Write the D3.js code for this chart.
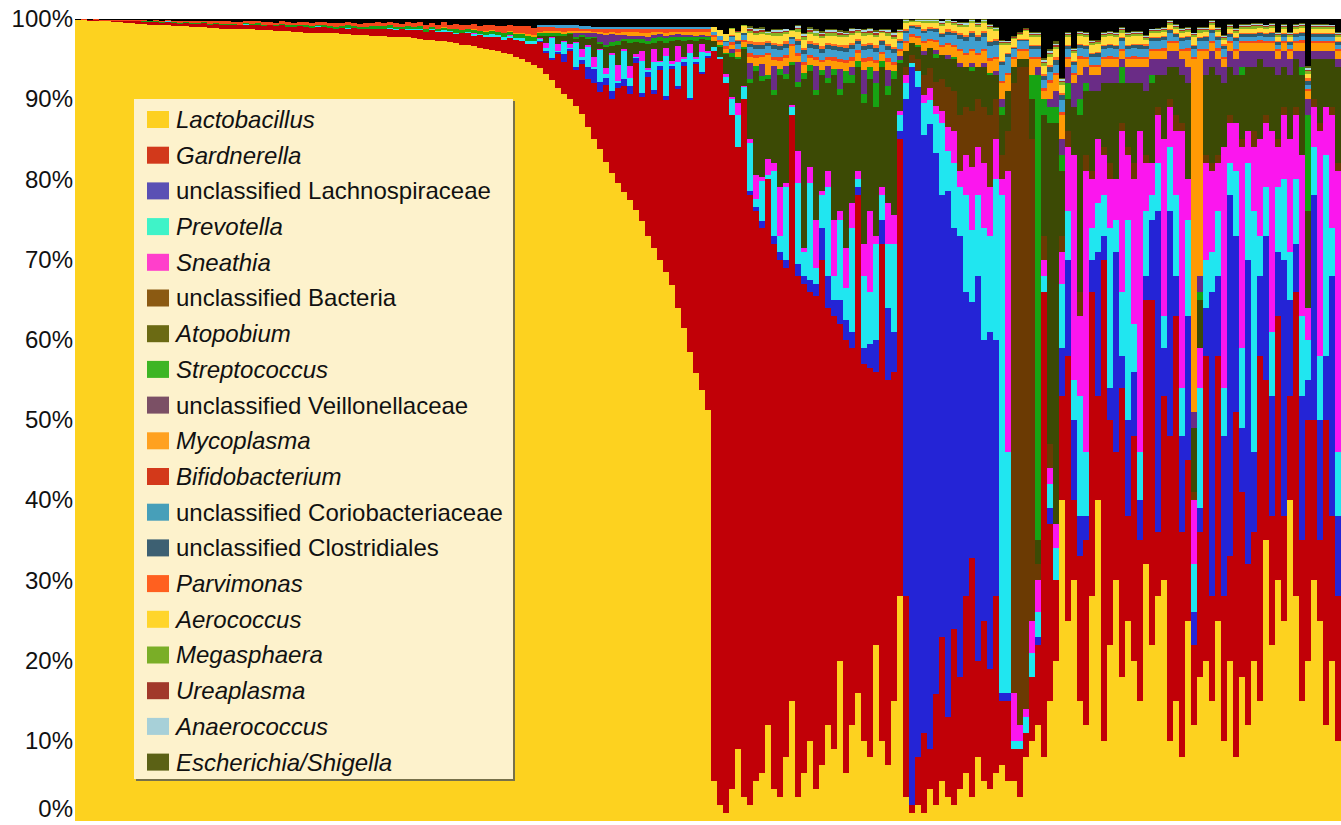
<!DOCTYPE html>
<meta charset="utf-8">
<style>
body { margin: 0; background: #fff; }
svg text { font-family: "Liberation Sans", Arial, sans-serif; fill: #111; }
</style>
<svg width="1341" height="825"></svg>
<script src="https://d3js.org/d3.v7.min.js"></script>
<script>

// taxa, bottom of the stack first (same order as the legend)
var taxa = ["Lactobacillus", "Gardnerella", "unclassified Lachnospiraceae", "Prevotella",
  "Sneathia", "unclassified Bacteria", "Atopobium", "Streptococcus",
  "unclassified Veillonellaceae", "Mycoplasma", "Bifidobacterium",
  "unclassified Coriobacteriaceae", "unclassified Clostridiales", "Parvimonas",
  "Aerococcus", "Megasphaera", "Ureaplasma", "Anaerococcus", "Escherichia/Shigella"];

var yTicks = [0, 0.1, 0.2, 0.3, 0.4, 0.5, 0.6, 0.7, 0.8, 0.9, 1];

// relative abundance (%) per sample, in plotted order:
// 106 Lactobacillus-dominated | 32 Gardnerella | 16 Lachnospiraceae | 57 mixed
var lactobacillus = [
  99.9,99.9,99.8,99.8,99.7,99.7,99.6,99.6,99.5,99.5,
  99.4,99.4,99.3,99.3,99.2,99.2,99.1,99.1,99.1,99.0,
  99.0,99.0,98.9,98.9,98.8,98.8,98.8,98.7,98.7,98.7,
  98.6,98.6,98.6,98.5,98.5,98.5,98.4,98.4,98.3,98.3,
  98.3,98.2,98.2,98.2,98.1,98.1,98.0,98.0,98.0,97.9,
  97.9,97.9,97.8,97.8,97.7,97.7,97.6,97.5,97.4,97.4,
  97.3,97.2,97.1,97.0,96.8,96.7,96.6,96.4,96.3,96.1,
  96.0,95.8,95.6,95.3,95.0,94.7,94.3,93.9,93.2,92.4,
  91.4,90.6,90.0,89.2,88.2,86.5,85.0,83.8,82.2,80.8,
  79.5,78.4,77.4,76.2,74.8,73.0,71.4,69.9,68.5,66.8,
  64.0,61.5,58.5,55.8,53.8,51.2,
  5,2,1,4,9,3,2,5,6,12,4,3,8,15,3,6,10,4,7,12,9,20,6,12,16,10,8,22,10,7,15,28,
  3,1,2,1,4,2,5,3,2,4,6,3,8,5,4,6,
  7,5,5,3,8,10,12,8,15,20, 40,25,30,15,12,28,40,10,22,30, 18,25,20,15,32,22,28,30,10,15,
  8,25,12,18,20,15,25,10,20,8, 18,12,20,15,35,22,30,25,40,28, 15,20,30,25,12,20,10
];
var gardnerella = [
  0,0,0.1,0.1,0.1,0.1,0.2,0.2,0.2,0.2,
  0.3,0.2,0.3,0.3,0.3,0.4,0.4,0.3,0.4,0.4,
  0.4,0.5,0.4,0.5,0.5,0.4,0.5,0.5,0.6,0.5,
  0.6,0.5,0.6,0.6,0.7,0.5,0.6,0.7,0.7,0.6,
  0.7,0.8,0.7,0.6,0.8,0.7,0.9,0.8,0.7,0.9,
  0.8,0.9,1.0,0.8,1.0,0.9,1.0,1.1,1.0,1.2,
  1.1,1.2,1.3,1.1,1.4,1.5,1.3,1.6,1.5,1.7,
  1.8,1.6,2.0,2.1,2.3,2.2,2.6,
  3.2,2.5,2.5,4.2,4.0,6.0,4.4,6.2,6.0,7.0, 7.1,9.6,9.2,11.9,13.3,13.3,18.3,15.5,19.8,19.3,
  23.7,21.4,27.0,27.3,32.7,31.4,38.6,39.3,43.9,
  91,93,91,84,75,87,76,71,68,68,68,67,61,73,65,61,56,61.5,63,52,54,42,54,47,62,47,48.5,34,62,48,41,57,
  25,1,6,10,5,14,18,10,22,14,22,30,12,20,15,22,
  8,10,4,6,3,8,10,58,22,10, 13,33,10,18,23,38,13,60,28,16, 36,13,28,20,33,43,8,23,38,48,
  28,20,10,18,38,13,33,18,13,43, 23,20,16,43,20,16,33,13,13,38, 20,30,20,10,38,18,18
];
var lachnospiraceae = [
  0,0,0,0,0,0,0,0,0,0, 0,0,0,0,0,0,0,0,0,0, 0,0,0,0,0,0,0,0,0,0, 0,0,0,0,0,0,0,0,0,0,
  0,0,0,0,0,0,0,0,0,0, 0,0,0,0,0,0,0,0,0,0, 0,0,0,0,0,0,0,0,0,0, 0,0,0,0,0,0,0,
  0.2,0.3,0.2,0.3,1.0,0.2,0.4,0.5,1.5,1.8,1.2,0.8,1.0,0.6,0.8,1.0,0.6,0.5,0.6,0.4,
  0.5,0.5,0.4,0.3,0.4,0.3,0.3,0.3,0.3,
  0,0,0,0,0,0,0.5,0.5,0.8,0,1,1,1,0,1.5,1,1.5,1.5,4,4,2,3,2.5,2,1,2,3,4,3,9,5,1,
  62,92,84,75,78,68,55,66,50,55,38,32,48,35,42,32,
  1,1,0,0,0,0,1,0,2,0, 6,12,10,5,3,4,18,3,4,25, 4,12,8,5,3,10,40,6,28,5,
  12,18,4,3,6,38,10,20,45,22, 8,38,10,10,18,15,8,32,12,6, 18,5,28,15,8,30,10
];
var prevotella = [
  0,0,0,0,0,0,0,0,0,0, 0,0,0,0,0,0.1,0,0,0,0, 0,0,0,0,0,0,0,0,0.1,0, 0,0,0,0,0,0,0,0,0,0,
  0.1,0,0,0,0,0.1,0,0,0,0,
  0.1,0,0.1,0.1,0,0.1,0.1,0.2,0,0.1,0.1,0.2,0.1,0.2,0.1,0.2,0.2,0.1,0.2,0.3,
  0.2,0.3,0.3,0.2,0.3,0.4,0.3,
  0.2,0.4,2.5,0.1,1.5,0.2,3.0,0.3,2.5,0.2, 4.0,0.5,4.5,0.3,3.5,1.0,0.2,4.0,0.3,3.5,
  0.5,5.0,0.2,3.0,0.4,5.5,0.3,2.5,0.4,
  0.5,0.3,0.8,2,4,1.5,6,1,5,0.5,8,2,9,1,10,3,12,2,4,11,3,10,4,13,1,9,6.5,12,3,8,11,2,
  2,0.5,2,4,3,5,9,5,8,6,12,9,10,14,12,20,
  62,30,1,1,2,3,3,2,3,4, 8,6,5,15,8,4,6,5,20,4, 8,25,6,6,8,3,6,4,8,10,
  6,12,6,15,6,5,8,6,4,8, 10,12,30,5,6,8,8,10,6,8, 10,5,6,8,25,6,8
];
var sneathia = [
  0,0,0,0,0,0,0,0,0,0, 0,0,0,0,0,0,0,0,0,0, 0,0,0,0,0,0,0,0,0,0, 0.1,0,0,0,0,0,0,0,0,0,
  0,0,0,0,0,0,0,0,0,0, 0,0,0,0,0,0.1,0,0,0,0, 0,0,0,0,0,0,0.1,0,0,0, 0,0,0.1,0,0,0,0,
  0.1,0.6,0.1,0.9,0.2,0.5,0.1,1.0,0.2,1.2, 0.2,0.8,0.3,2.0,0.2,1.5,0.3,1.2,0.2,1.6,
  0.2,1.0,0.4,2.0,0.2,1.2,0.3,1.0,0.2,
  0,0,0.3,0.3,1.5,0.2,0.5,3,0.5,2,1,6,0.5,0.3,4,0.5,2,6,0.5,2,7,1,5,3,1,4,10,1,1,5,3.5,0.5,
  1,0,0,1,1.5,1,1.5,3,4,2,5,8,6,8,6,5,
  2,35,6,2,1,4,4,2,2,3, 4,8,28,10,35,6,8,5,6,5, 20,8,18,40,6,4,6,22,5,8,
  32,5,8,5,12,10,6,30,5,6, 25,4,8,12,8,25,5,8,14,8, 20,4,5,28,6,14,35
];
var bacteria = [
  0,0,0,0,0,0,0,0,0,0, 0,0,0,0,0,0,0,0,0,0, 0,0,0,0,0,0,0,0,0,0, 0,0,0,0,0,0,0,0,0,0,
  0,0,0,0,0,0,0,0,0,0, 0,0,0,0,0,0,0,0,0,0, 0,0,0,0,0,0,0,0,0,0, 0,0,0,0,0,0,0,0,0,0,
  0,0,0,0,0,0,0,0,0,0, 0,0,0,0,0,0,0,0,0,0, 0,0,0,0,0,0,
  0,0,0,0,0,0,0,0,0,0, 0,0,0,0,0,0,0,0,0,0, 0,0,0,0,0,0,0,0,0,0, 0,0,
  1,1,1.5,2.5,2.5,3,4,5,5,7,6,7,6,7,9,5,
  3,5,76,82,80,60,2,3,3,0, 2,2,0,3,2,1,0,1,2,0, 1,1,2,0,1,0,1,0,1,2,
  1,0,1,0,1,1,1,0,1,0, 1,0,2,0,1,0,1,1,0,1, 0,0,1,1,0,1,1
];
var atopobium = [
  0,0,0,0,0,0,0,0,0,0, 0,0,0,0,0,0,0,0,0,0, 0,0,0,0,0,0,0,0,0,0, 0,0,0,0,0,0,0,0,0,0,
  0,0,0,0,0,0,0,0,0,0, 0,0,0,0,0,0,0,0,0,0, 0,0,0,0,0,0,0,0,0,0, 0,0,0,0,0,0,0,
  0.3,0.9,0.2,1.0,0.6,1.2,0.4,1.5,0.8,2.4, 0.6,2.6,0.8,2.5,1.0,2.8,1.5,1.0,3.0,0.8,
  2.4,0.6,2.5,0.8,2.0,0.5,2.0,0.6,1.4,
  0.8,1.2,2.5,5,5.5,4.5,7,13,12,10,8.5,14,13,5,8,21,12,15.5,14.5,11,18,14.5,20.5,15,13,17.5,16.5,16,15,13.5,17,6,
  2,1.5,1.5,2.5,2.5,3,3,3.5,4,6,5,5,4,5,5,3,
  5,5,2,1,1,5,3,15,40,50, 8,4,6,22,8,10,6,8,10,12, 5,8,10,6,8,10,4,8,4,6,
  6,12,8,6,10,12,10,8,6,6, 8,8,8,10,6,8,8,5,8,6, 10,12,5,8,6,6,12
];
var streptococcus = [
  0,0,0,0,0,0,0,0,0.1,0.1, 0.1,0.1,0.1,0.1,0.1,0.1,0.1,0.1,0.1,0.1,
  0.1,0.1,0.1,0.1,0.1,0.2,0.1,0.1,0.1,0.2, 0.2,0.2,0.1,0.2,0.2,0.2,0.2,0.2,0.2,0.2,
  0.2,0.2,0.2,0.2,0.2,0.3,0.2,0.2,0.3,0.3, 0.3,0.3,0.3,0.3,0.3,0.3,0.3,0.3,0.3,0.3,
  0.3,0.3,0.3,0.4,0.3,0.3,0.4,0.4,0.4,0.4, 0.4,0.5,0.4,0.5,0.5,0.6,0.6,
  0.3,0.4,0.3,0.3,0.2,0.2,0.2,0.3,0.2,0.2,0.2,0.3,0.5,0.4,0.3,0.5,0.4,0.5,0.4,0.6,
  0.5,0.6,0.4,0.4,0.5,0.4,0.4,0.3,0.3,
  0,0.2,0.2,0.4,0.3,0.3,0.5,0.6,0.6,0.5,0.6,0.8,0.6,0.3,0.6,0.8,0.8,0.6,0.6,0.6,0.8,0.8,1.5,1,0.8,1.2,1.5,3,0.8,1.2,1,0.4,
  0,0,0.3,0,0,0.5,0,0,0.3,0,0,0.5,0,0,0.3,0,
  1,0,0,0,0,3,58,2,2,2, 2,2,0,2,1,0,0,0,0,0, 2,0,0,0,0,1,0,0,0,0,
  0,0,0,1,0,0,0,0,0,0, 1,0,0,0,0,0,0,0,0,0, 1,12,0,0,0,0,0
];
var veillonellaceae = [
  0,0,0,0,0,0,0,0,0,0, 0,0,0,0,0,0,0,0,0,0, 0,0,0,0,0,0,0,0,0,0, 0,0,0,0,0,0,0,0,0,0,
  0,0,0,0,0,0,0,0,0,0, 0,0,0,0,0,0,0,0,0,0, 0,0,0,0,0,0,0,0,0,0, 0,0,0,0,0,0,0,
  0,0,0,0,0,0,0.6,0.3,0.5,0.4,1.0,1.2,1.0,0.8,0.5,0.4,0.4,0.4,0.5,0.4,
  0.4,0.3,0.3,0.3,0.3,0.2,0.2,0.2,0.2,
  0,0,0,0.5,0,0,2,0,1.5,0,3,0,1,0,2.5,0,0,3,0,1.5,0,2.5,0,1,0,3,0,1.5,0,2,0,0.5,
  0,0,0,0.5,0,0.5,0,0.5,0,0.5,0,0.5,0,0.5,0,0.5,
  1,0,0,0,0,0,1,0,1,2, 2,2,3,3,2,2,2,2,2,2, 1,2,2,2,3,2,2,2,2,2,
  2,2,2,2,2,2,2,2,2,2, 2,2,2,1,2,2,2,2,2,1, 2,2,1,1,1,1,1
];
var mycoplasma = [
  0,0,0,0,0,0,0,0,0,0, 0,0,0,0,0,0,0,0,0,0, 0,0,0,0,0,0,0,0,0,0, 0,0,0,0,0,0,0,0,0,0,
  0,0,0,0,0,0,0,0,0,0, 0,0,0,0,0,0,0,0,0,0,
  0,0.1,0,0.1,0,0.1,0.1,0,0.1,0.1,0,0.1,0.1,0.2,0.1,0.2,0.2,
  0.2,0.2,0.3,0.3,0.3,0.2,0.2,0.2,0.3,0.2,0.3,0.3,0.3,0.3,0.4,0.5,0.5,0.4,0.5,0.4,
  0.3,0.4,0.4,0.3,0.4,0.4,0.5,0.4,0.5,
  0.4,0.4,0.5,0.6,0.6,0.6,0.8,1,0.8,2.5,0.8,1,1,2,0.8,1,0.8,0.8,1,0.8,1,0.8,1,0.8,1,1,0.8,1,0.8,1,0.8,0.6,
  1,0.8,0.8,1,0.8,1,1,1.2,1.2,1.5,1.5,1.5,1.5,1.5,1.5,1.5,
  2,2,1,1,1,2,1,1,2,2, 3,1,1,2,1,1,1,1,1,1, 1,1,1,1,1,1,1,1,1,1,
  1,2,44,28,1,1,1,1,1,1, 1,1,1,1,1,1,1,1,1,1, 1,1,1,1,1,1,1
];
var bifidobacterium = [
  0,0.1,0,0.1,0.1,0.1,0.1,0.1,0.1,0.1, 0.1,0.2,0.1,0.2,0.2,0.1,0.2,0.2,0.2,0.2,
  0.2,0.2,0.3,0.2,0.3,0.3,0.2,0.3,0.2,0.3, 0.3,0.3,0.3,0.2,0.3,0.4,0.3,0.3,0.4,0.4,
  0.3,0.4,0.4,0.5,0.4,0.4,0.4,0.4,0.5,0.4, 0.5,0.4,0.4,0.5,0.4,0.5,0.5,0.5,0.5,0.5,
  0.5,0.6,0.5,0.6,0.6,0.5,0.7,0.6,0.7,0.7, 0.7,0.8,0.7,0.8,0.9,1.0,0.9,
  0.6,0.5,0.5,0.4,0.5,0.4,0.4,0.3,0.3,0.3,0.3,0.4,0.3,0.4,0.3,0.3,0.3,0.4,0.4,0.3,
  0.3,0.4,0.3,0.3,0.3,0.3,0.3,0.3,0.3,
  0.3,0.3,0.3,0.3,0.3,0.3,0.4,0.4,0.3,0.3,0.4,0.4,0.4,0.3,0.4,0.4,0.4,0.4,0.3,0.4,0.4,0.4,0.4,0.4,0.3,0.4,0.4,0.4,0.3,0.4,0.4,0.3,
  0.3,0.3,0.3,0.3,0.3,0.3,0.3,0.3,0.3,0.3,0.3,0.3,0.3,0.3,0.3,0.3,
  0.3,0.3,0.2,0.2,0.2,0.3,0.3,0.4,0.4,0.3, 0.4,0.3,0.3,0.4,0.3,0.3,0.3,0.3,0.4,0.3,
  0.3,0.3,0.4,0.3,0.3,0.3,0.3,0.4,0.3,0.3, 0.3,0.4,0.3,0.3,0.3,0.3,0.4,0.3,0.3,0.3,
  0.3,0.3,0.3,0.4,0.3,0.3,0.3,0.3,0.3,0.3, 0.4,0.3,0.3,0.3,0.3,0.3,0.3
];
var coriobacteriaceae = [
  0,0,0,0,0,0,0,0,0,0, 0,0,0,0,0,0,0,0,0,0, 0,0,0,0,0,0,0,0,0,0, 0,0,0,0,0,0,0,0,0,0,
  0,0,0,0,0,0,0,0,0,0, 0,0,0,0,0,0,0,0,0,0, 0,0,0,0,0,0,0,0,0,0, 0,0,0,0,0,0,0,
  0.2,0.2,0.2,0.3,0.3,0.3,0.3,0.3,0.3,0.3,0.3,0.3,0.3,0.3,0.3,0.3,0.3,0.3,0.3,0.3,
  0.3,0.3,0.3,0.3,0.3,0.3,0.3,0.3,0.3,
  0.4,0.5,0.5,0.6,0.7,0.6,0.8,0.8,0.8,0.8,0.9,0.9,0.9,0.6,0.9,0.9,0.9,0.9,0.9,0.9,0.9,1,1,1,0.8,1,1,1,0.9,1,1,0.7,
  1,0.8,0.8,1,1,1,1,1,1.2,1.2,1.5,1.5,1.5,1.5,1.5,1.5,
  2,2,1,1,1,1,1,1,1,1, 1.5,1,1,1,1,1,1,1,1,1, 1,1,1,1,1,1,1,1,1,0.5,
  1,1,1,1,1,1,1,1,0.5,1, 0.5,0.5,0.5,0.5,0.5,0.5,0.5,0.5,0.5,0.5, 0.5,0.5,0.5,0.5,0.5,0.5,0.5
];
var clostridiales = [
  0,0,0,0,0,0,0,0,0,0, 0,0,0,0,0,0,0,0,0,0, 0,0,0,0,0,0,0,0,0,0, 0,0,0,0,0,0,0,0,0,0,
  0,0,0,0,0,0,0,0,0,0, 0,0,0,0,0,0,0,0,0,0, 0,0,0,0,0,0,0,0,0,0, 0,0,0,0,0,0,0,0,0,0,
  0,0,0,0,0,0,0,0,0,0, 0,0,0,0,0,0,0,0,0,0, 0,0,0,0,0,0,
  0,0,0.2,0.2,0.3,0.2,0.4,0.5,0.5,0.4,0.5,0.5,0.5,0.2,0.5,0.5,0.5,0.5,0.5,0.5,0.5,0.5,0.5,0.5,0.4,0.5,0.5,0.5,0.4,0.5,0.5,0.3,
  0.2,0.2,0.3,0.2,0.2,0.3,0.3,0.4,0.3,0.5,0.4,0.5,0.5,0.4,0.5,0.5,
  0.3,0.3,0.2,0.2,0.2,0.3,0.3,0.5,0.6,0.6, 0.6,0.3,0.3,0.3,0.3,0.3,0.4,0.3,0.3,0.3,
  0.3,0.3,0.3,0.4,0.3,0.3,0.3,0.3,0.3,0.3, 0.3,0.3,0.3,0.3,0.4,0.3,0.3,0.3,0.3,0.3,
  0.3,0.3,0.3,0.3,0.3,0.4,0.3,0.3,0.3,0.3, 0.3,0.5,0.3,0.3,0.3,0.3,0.3
];
var parvimonas = [
  0,0,0,0,0,0,0,0,0,0, 0,0,0,0,0,0,0,0,0,0, 0,0,0,0,0,0,0,0,0,0, 0,0,0,0,0,0,0,0,0,0,
  0,0,0,0,0,0,0,0,0,0, 0,0,0,0,0,0,0,0,0,0, 0,0,0,0,0,0,0,0,0,0, 0,0,0,0,0,0,0,0,0,0,
  0,0,0,0,0,0,0,0,0,0, 0,0,0,0,0,0,0,0,0,0, 0,0,0,0,0,0,
  0,0,0,0.1,0.2,0.1,0.3,0.3,0.3,0.2,0.3,0.3,0.3,0.1,0.3,0.3,0.3,0.3,0.3,0.3,0.3,0.3,0.3,0.3,0.2,0.3,0.3,0.3,0.2,0.3,0.3,0.2,
  0.2,0.1,0.2,0.2,0.3,0.2,0.2,0.3,0.2,0.2,0.3,0.2,0.2,0.3,0.2,0.2,
  0.2,0.2,0.1,0.1,0.1,0.2,0.2,0.3,0.3,0.3, 0.3,0.2,0.2,0.2,0.2,0.2,0.2,0.2,0.2,0.2,
  0.2,0.2,0.2,0.2,0.3,0.2,0.2,0.2,0.2,0.2, 0.2,0.2,0.2,0.2,0.2,0.2,0.2,0.3,0.2,0.2,
  0.2,0.2,0.2,0.2,0.2,0.2,0.2,0.2,0.2,0.2, 0.2,0.3,0.2,0.2,0.2,0.2,0.2
];
var aerococcus = [
  0,0,0,0,0,0,0,0,0,0, 0,0,0,0,0,0,0,0,0,0, 0,0,0,0,0,0,0,0,0,0, 0,0,0,0,0,0,0,0,0,0,
  0,0,0,0,0,0,0,0,0,0, 0,0,0,0,0,0,0,0,0,0, 0,0,0,0,0,0,0,0,0,0, 0,0,0,0,0,0,0,0,0,0,
  0,0,0,0,0,0,0,0,0,0, 0,0,0,0,0,0,0,0,0,0, 0,0,0,0,0,0,
  0.6,0.7,0.8,0.8,0.8,0.8,1,0.9,1,0.8,0.9,1,0.9,0.7,0.9,1,0.9,0.9,1,0.9,1,0.9,1,1,0.8,1,1,1,0.8,1,1,0.7,
  0.8,0.4,0.4,0.8,0.5,0.6,0.8,0.8,0.8,0.8,1,1,1,1,1.5,1,
  2,1,1,0.5,1,1,1,1,1,1, 1,1,1,1,1,1,1,1,1,1, 0.5,1,1,1,0.5,0.5,0.5,0.5,0.5,0.5,
  0.5,0.5,1,0.5,0.5,0.5,0.5,0.5,0.5,0.5, 0.5,0.5,0.5,0.5,0.5,0.5,0.5,0.5,0.5,0.5, 0.5,0.5,0.5,0.5,0.5,0.5,0.5
];
var megasphaera = [
  0,0,0,0,0,0,0,0,0,0, 0,0,0,0,0,0,0,0,0,0, 0,0,0,0,0,0,0,0,0,0, 0,0,0,0,0,0,0,0,0,0,
  0,0,0,0,0,0,0,0,0,0, 0,0,0,0,0,0,0,0,0,0, 0,0,0,0,0,0,0,0,0,0, 0,0,0,0,0,0,0,0,0,0,
  0,0,0,0,0,0,0,0,0,0, 0,0,0,0,0,0,0,0,0,0, 0,0,0,0,0,0,
  0,0,0,0.1,0.2,0.1,0.3,0.3,0.3,0.2,0.3,0.3,0.3,0.1,0.3,0.3,0.3,0.3,0.3,0.3,0.3,0.3,0.3,0.3,0.2,0.3,0.3,0.3,0.2,0.3,0.3,0.2,
  0.2,0.1,0.1,0.2,0.2,0.2,0.3,0.2,0.2,0.3,0.2,0.2,0.3,0.2,0.2,0.2,
  0.2,0.2,0.1,0.1,0.1,0.2,0.2,0.3,0.3,0.3, 0.3,0.2,0.2,0.2,0.2,0.2,0.2,0.2,0.2,0.2,
  0.3,0.2,0.2,0.2,0.2,0.2,0.2,0.2,0.2,0.2, 0.2,0.2,0.2,0.3,0.2,0.2,0.2,0.2,0.2,0.2,
  0.2,0.2,0.3,0.2,0.2,0.2,0.2,0.2,0.2,0.2, 0.2,0.4,0.2,0.2,0.2,0.2,0.2
];
var ureaplasma = [
  0,0,0,0,0,0,0,0,0,0, 0,0,0,0,0,0,0,0,0,0, 0,0,0,0,0,0,0,0,0,0, 0,0,0,0,0,0,0,0,0,0,
  0,0,0,0,0,0,0,0,0,0, 0,0,0,0,0,0,0,0,0,0, 0,0,0,0,0,0,0,0,0,0, 0,0,0,0,0,0,0,0,0,0,
  0,0,0,0,0,0,0,0,0,0, 0,0,0,0,0,0,0,0,0,0, 0,0,0,0,0,0,
  0,0,0,0,0.1,0,0.2,0.2,0.2,0.1,0.2,0.2,0.1,0,0.2,0.2,0.2,0.1,0.2,0.2,0.2,0.2,0.1,0.2,0.1,0.2,0.2,0.2,0.1,0.2,0.2,0.1,
  0.1,0.1,0.1,0.1,0.1,0.1,0.1,0.1,0.1,0.1,0.1,0.1,0.1,0.1,0.1,0.1,
  0.1,0.1,0.1,0.1,0.1,0.1,0.1,0.2,0.2,0.2, 0.2,0.1,0.1,0.1,0.1,0.1,0.1,0.1,0.1,0.1,
  0.1,0.1,0.1,0.1,0.1,0.1,0.1,0.1,0.1,0.1, 0.1,0.1,0.1,0.1,0.1,0.1,0.1,0.1,0.1,0.1,
  0.1,0.1,0.1,0.1,0.1,0.1,0.1,0.1,0.1,0.1, 0.1,0.2,0.1,0.1,0.1,0.1,0.1
];
var anaerococcus = [
  0,0,0,0,0,0,0,0,0,0, 0,0,0,0,0,0,0,0,0,0, 0,0,0,0,0,0,0,0,0,0, 0,0,0,0,0,0,0,0,0,0,
  0,0,0,0,0,0,0,0,0,0, 0,0,0,0,0,0,0,0,0,0, 0,0,0,0,0,0,0,0,0,0, 0,0,0,0,0,0,0,0,0,0,
  0,0,0,0,0,0,0,0,0,0, 0,0,0,0,0,0,0,0,0,0, 0,0,0,0,0,0,
  0,0,0,0,0,0,0.2,0.2,0.2,0.1,0.2,0.2,0.2,0,0.2,0.2,0.2,0.2,0.2,0.2,0.2,0.2,0.2,0.2,0.1,0.2,0.2,0.2,0.1,0.2,0.2,0.1,
  0.1,0,0.1,0.1,0.1,0.1,0.2,0.1,0.1,0.1,0.2,0.1,0.1,0.1,0.2,0.1,
  0.2,0.1,0.1,0.1,0.1,0.2,0.2,0.2,0.2,0.2, 0.2,0.2,0.2,0.2,0.2,0.2,0.1,0.2,0.2,0.2,
  0.2,0.2,0.2,0.2,0.2,0.1,0.2,0.2,0.2,0.2, 0.2,0.2,0.1,0.2,0.2,0.2,0.2,0.2,0.2,0.2,
  0.2,0.2,0.2,0.2,0.1,0.2,0.2,0.2,0.2,0.2, 0.2,0.2,0.2,0.2,0.2,0.1,0.2
];
var escherichia = [
  0,0,0,0,0,0,0,0,0,0, 0,0,0,0,0,0,0,0,0,0, 0,0,0,0,0,0,0,0,0,0, 0,0,0,0,0,0,0,0,0,0,
  0,0,0,0,0,0,0,0,0,0, 0,0,0,0,0,0,0,0,0,0, 0,0,0,0,0,0,0,0,0,0, 0,0,0,0,0,0,0,0,0,0,
  0,0,0,0,0,0,0,0,0,0, 0,0,0,0,0,0,0,0,0,0, 0,0,0,0,0,0,
  0,0,0,0,0,0,0.2,0.2,0.2,0.1,0.2,0.2,0.1,0,0.2,0.2,0.2,0.2,0.2,0.2,0.2,0.2,0.2,0.2,0.1,0.2,0.2,0.2,0.1,0.2,0.2,0.1,
  0.1,0.1,0.1,0.1,0.1,0.1,0.1,0.1,0.1,0.1,0.1,0.1,0.1,0.1,0.1,0.1,
  0.1,0.1,0.1,0.1,0.1,0.1,0.1,0.2,0.2,0.3, 0.2,0.1,0.1,0.1,0.1,0.1,0.1,0.1,0.1,0.1,
  0.1,0.1,0.1,0.1,0.1,0.1,0.1,0.1,0.1,0.1, 0.1,0.1,0.1,0.1,0.1,0.1,0.1,0.1,0.1,0.1,
  0.1,0.1,0.1,0.1,0.1,0.1,0.1,0.1,0.1,0.1, 0.1,0.3,0.1,0.1,0.1,0.1,0.1
];

// colours: bars in the plot, swatches in the legend (the legend ones are a bit muted)
var barColors = ["#fdd21f", "#c10007", "#2424d6", "#20e6f0", "#fb16ee", "#6b3a03", "#3c4a05",
  "#17a313", "#6a2c86", "#ff9a05", "#f5461a", "#3f9fd0", "#2d5b6f", "#ff6d1f", "#ffdc3c",
  "#86b423", "#a53222", "#a9d6df", "#58620f"];
var legendColors = ["#fdd021", "#d2391b", "#5a50b4", "#3ff3c8", "#ff3fcb", "#8b5a12", "#6b6a13",
  "#3db524", "#7b5065", "#ffa11f", "#d3391a", "#479fb9", "#3d6072", "#ff601f", "#ffd52b",
  "#7aae27", "#a1392a", "#a7d0d8", "#5b6115"];

var series = [lactobacillus, gardnerella, lachnospiraceae, prevotella, sneathia, bacteria,
  atopobium, streptococcus, veillonellaceae, mycoplasma, bifidobacterium, coriobacteriaceae,
  clostridiales, parvimonas, aerococcus, megasphaera, ureaplasma, anaerococcus, escherichia];

var svg = d3.select("svg");
var nSamples = lactobacillus.length;

// one row per sample, whatever is left up to 100% goes to "Other" (black on top)
var table = d3.range(nSamples).map(function(i) {
  var row = {}, total = 0;
  taxa.forEach(function(t, j) {
    var v = series[j][i] || 0;
    row[t] = v;
    total += v;
  });
  row.Other = Math.max(0, 100 - total);
  return row;
});

var keys = taxa.concat(["Other"]);
var layers = d3.stack().keys(keys).offset(d3.stackOffsetExpand)(table);

var x = d3.scaleBand().domain(d3.range(nSamples)).range([75, 1341]);
var y = d3.scaleLinear().domain([0, 1]).range([821, 19]);
var color = d3.scaleOrdinal().domain(keys).range(barColors.concat(["#000000"]));

svg.append("g")
  .selectAll("g")
  .data(layers)
  .enter().append("g")
    .attr("fill", function(d) { return color(d.key); })
  .selectAll("rect")
  .data(function(d) { return d; })
  .enter().append("rect")
    .attr("x", function(d, i) { return x(i); })
    .attr("y", function(d) { return y(d[1]); })
    .attr("width", x.bandwidth() + 0.3)
    .attr("height", function(d) { return Math.max(0, y(d[0]) - y(d[1])); })
    .attr("shape-rendering", "crispEdges");

// y axis, labels only
var axis = svg.append("g")
  .attr("transform", "translate(73,0)")
  .call(d3.axisLeft(y).tickValues(yTicks).tickFormat(d3.format(".0%")).tickSize(0).tickPadding(0));
axis.select(".domain").remove();
axis.attr("font-size", 24);
axis.selectAll("text").attr("fill", "#111");
// the bottom label sits on the lower edge, lift it so it stays inside
axis.selectAll(".tick").filter(function(d) { return d === 0; })
  .select("text").attr("dy", "-0.17em");

// legend box
var legend = svg.append("g");
legend.append("rect")
  .attr("x", 136).attr("y", 101).attr("width", 379).attr("height", 680)
  .attr("fill", "#77714a");
legend.append("rect")
  .attr("x", 134).attr("y", 99).attr("width", 379).attr("height", 680)
  .attr("fill", "#fdf2cc");

var item = legend.selectAll("g.item")
  .data(taxa)
  .enter().append("g")
    .attr("class", "item")
    .attr("transform", function(d, i) { return "translate(0," + (119.5 + i * 35.7) + ")"; });

item.append("rect")
  .attr("x", 147).attr("y", -8.5).attr("width", 22).attr("height", 17)
  .attr("fill", function(d, i) { return legendColors[i]; });

item.append("text")
  .attr("x", 176)
  .attr("dy", "0.35em")
  .style("font-size", "24px")
  .style("font-style", function(d) { return d.indexOf("unclassified") === 0 ? "normal" : "italic"; })
  .text(function(d) { return d; });

</script>
